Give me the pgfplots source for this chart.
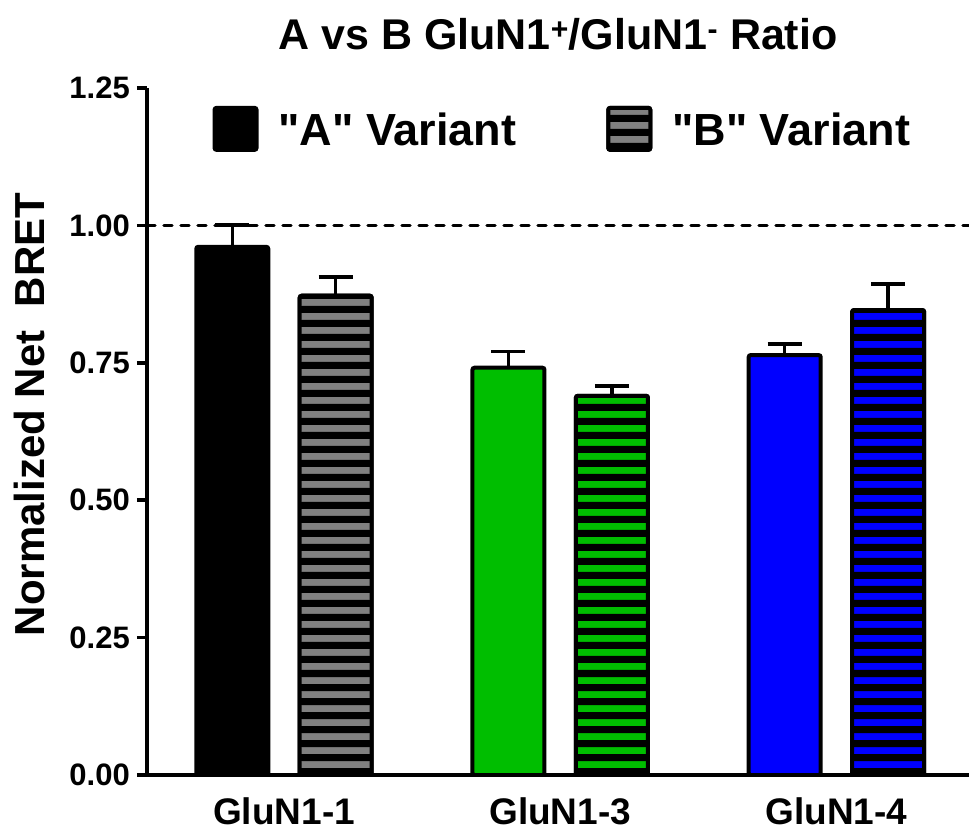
\documentclass[border=0pt]{standalone}
\usepackage{fontspec}
\setmainfont{Liberation Sans}
\usepackage{pgfplots}
\pgfplotsset{compat=1.18}
\definecolor{StripeGray}{HTML}{808080}
\definecolor{PGreen}{HTML}{00BE00}
\definecolor{PBlue}{HTML}{0000FF}
\newcommand{\fs}[1]{\bfseries\fontsize{#1}{#1}\selectfont}

% black horizontal stripes, drawn with basic-layer commands only
\newcommand{\hstripes}{%
  \pgfpointanchor{path picture bounding box}{south west}%
  \pgfgetlastxy{\xa}{\ya}%
  \pgfpointanchor{path picture bounding box}{north east}%
  \pgfgetlastxy{\xb}{\yb}%
  \ifdim\xb>\xa
  \ifdim\yb>\ya
  \pgfsetfillcolor{black}%
  \foreach \k in {0,...,70}{%
    \pgfpathrectangle{\pgfpoint{\xa}{\ya+\k*14pt}}{\pgfpoint{\xb-\xa}{7pt}}%
    \pgfusepath{fill}%
  }%
  \fi
  \fi
}
\tikzset{
  solidbar/.style={fill=#1, draw=black, line width=4pt, rounded corners=2pt},
  stripebar/.style={fill=#1, draw=black, line width=4pt, rounded corners=2pt,
    path picture={\hstripes},
    postaction={draw=black, line width=4pt}},
}
\pgfplotsset{
  errs/.style={/pgfplots/error bars/y dir=plus, /pgfplots/error bars/y explicit,
    /pgfplots/error bars/error bar style={line width=3.5pt, black, solid},
    /pgfplots/error bars/error mark options={rotate=90, mark size=17pt, line width=3.5pt, black}},
}

\begin{document}
\begin{tikzpicture}
\begin{axis}[
  name=ax,
  scale only axis,
  width=822pt, height=687pt,
  xmin=0.504, xmax=3.48,
  ymin=0, ymax=1.25,
  ybar, bar width=72pt, bar shift=0pt,
  axis x line*=bottom, axis y line*=left,
  axis line style={-, line width=3.5pt, black},
  xtick={1,2,3},
  xticklabels={GluN1-1,GluN1-3,GluN1-4},
  xtick style={draw=none},
  ytick={0,0.25,0.5,0.75,1,1.25},
  ytick style={line width=3.5pt, black},
  tick align=outside,
  major tick length=10pt,
  xticklabel style={font=\fs{37}, anchor=base, inner sep=0pt, yshift=-39pt},
  yticklabel style={font=\fs{31}, inner sep=0pt, xshift=-7pt,
    /pgf/number format/.cd, fixed, fixed zerofill, precision=2, assume math mode=true},
  title={A vs B GluN1\textsuperscript{+}/GluN1\textsuperscript{-} Ratio},
  title style={font=\fs{43}, at={(axis description cs:0.5,1.048)}, anchor=base},
  ylabel={Normalized Net\ \ BRET},
  ylabel style={font=\fs{42}, at={(axis description cs:-0.1435,0.525)}, anchor=center},
  legend columns=2,
  legend image code/.code={\draw[#1, rounded corners=2pt] (0pt,-20pt) rectangle (42pt,22pt);},
  legend style={draw=none, fill=none, font=\fs{45},
    at={(rel axis cs:0.504,0.9405)}, anchor=center,
    nodes={inner sep=0pt},
    /tikz/every odd column/.append style={column sep=20pt},
    /tikz/every even column/.append style={column sep=90pt}},
]
% reference line at 1.0
\addplot[sharp plot, forget plot, black, line width=3.5pt, line cap=round,
  dash pattern=on 8pt off 9pt] coordinates {(0.504,1) (3.48,1)};

\addplot[solidbar=black, errs] coordinates {(0.8127,0.961) +- (0,0.040)};
\addlegendentry{\textquotedbl A\textquotedbl\ Variant}
\addplot[stripebar=StripeGray, errs] coordinates {(1.1873,0.872) +- (0,0.034)};
\addlegendentry{\textquotedbl B\textquotedbl\ Variant}

\addplot[forget plot, solidbar=PGreen, errs] coordinates {(1.8127,0.741) +- (0,0.030)};
\addplot[forget plot, stripebar=PGreen, errs] coordinates {(2.1873,0.690) +- (0,0.018)};

\addplot[forget plot, solidbar=PBlue, errs] coordinates {(2.8127,0.764) +- (0,0.020)};
\addplot[forget plot, stripebar=PBlue, errs] coordinates {(3.1873,0.846) +- (0,0.047)};
\end{axis}
\pgfresetboundingbox
\path ([shift={(-147pt,-55pt)}]ax.south west) rectangle ([shift={(0pt,88pt)}]ax.north east);
\end{tikzpicture}
\end{document}
